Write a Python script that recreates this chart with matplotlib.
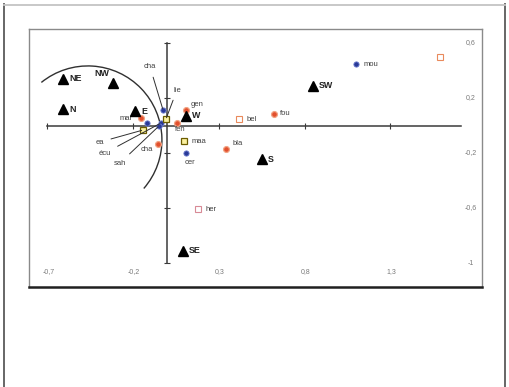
import numpy as np
import matplotlib
matplotlib.use("Agg")
import matplotlib.pyplot as plt
from matplotlib.patches import Arc
from matplotlib.lines import Line2D

plt.rcParams['font.family'] = ['Liberation Sans', 'DejaVu Sans']

# exposure sites (black triangles)
dir_names = ["NE", "NW", "N", "E", "W", "SW", "S", "SE"]
dir_x = [-0.61, -0.32, -0.61, -0.19, 0.11, 0.85, 0.55, 0.09]
dir_y = [0.34, 0.31, 0.12, 0.105, 0.07, 0.29, -0.245, -0.91]

# species, grouped by symbol
orange_names = ["mar", "fen", "gen", "fou", "bla", "cha"]
orange_x = [-0.155, 0.055, 0.108, 0.621, 0.341, -0.055]
orange_y = [0.055, 0.018, 0.113, 0.084, -0.171, -0.135]

blue_names = ["cha", "", "écu", "sah", "cer", "mou"]
blue_x = [-0.026, -0.12, -0.038, -0.05, 0.108, 1.099]
blue_y = [0.113, 0.018, 0.018, -0.004, -0.2, 0.447]

olive_names = ["lie", "ea", "maa"]
olive_x = [-0.009, -0.143, 0.096]
olive_y = [0.047, -0.033, -0.113]

open_names = ["bel", "", "her"]
open_x = [0.417, 1.589, 0.178]
open_y = [0.047, 0.498, -0.607]

xticks = [-0.7, -0.2, 0.3, 0.8, 1.3]
yticks = [0.6, 0.2, -0.2, -0.6, -1.0]

# axis extents
x_axis_end = 1.71
y_axis_top = 0.6
y_axis_bottom = -1.0

# ---- figure ----
W, H = 509, 387
fig = plt.figure(figsize=(W / 100, H / 100), dpi=100)

# plot box in pixels: x 29..482, y 29..287
ax = fig.add_axes([29 / W, 1 - 287 / H, (482 - 29) / W, (287 - 29) / H])
# pixel -> data mapping: x0 at 167.5 px, 171.5 px/unit ; y0 at 125.5 px, 137.5 px/unit
ax.set_xlim((29 - 167.5) / 171.5, (482 - 167.5) / 171.5)
ax.set_ylim((125.5 - 287) / 137.5, (125.5 - 29) / 137.5)
ax.set_xticks([])
ax.set_yticks([])
for s in ["top", "left", "right"]:
    ax.spines[s].set_color("#8a8a8a")
    ax.spines[s].set_linewidth(1.0)
ax.spines["bottom"].set_color("#202020")
ax.spines["bottom"].set_linewidth(1.8)

# crossing axes
ax.plot([xticks[0], x_axis_end], [0, 0], color="#3a3a3a", lw=1.1, zorder=1)
ax.plot([0, 0], [y_axis_bottom, y_axis_top], color="#3a3a3a", lw=1.1, zorder=1)
ax.plot(xticks, [0] * len(xticks), ls="none", marker="|", ms=4, mew=0.8, color="#3a3a3a")
ax.plot([0] * len(yticks), yticks, ls="none", marker="_", ms=4, mew=0.8, color="#3a3a3a")

fmt = lambda v: ("%g" % v).replace(".", ",")
tick_kw = dict(fontsize=5.0, color="#7a7a7a")
for v in xticks:
    ax.annotate(fmt(v), xy=(v, 0), xycoords=("data", "axes fraction"),
                xytext=(1, 15), textcoords="offset pixels", ha="center", va="center", **tick_kw)
for v in yticks:
    ax.annotate(fmt(v), xy=(1, v), xycoords=("axes fraction", "data"),
                xytext=(-11, 0), textcoords="offset pixels", ha="center", va="center", **tick_kw)

# grouping arc (circle in pixel space)
arc_cx, arc_cy = -0.464, -0.105
arc_rx, arc_ry = 74 / 171.5, 74 / 137.5
t1, t2 = np.deg2rad(-41), np.deg2rad(129)
th1 = np.rad2deg(np.arctan2(arc_ry * np.sin(t1), arc_rx * np.cos(t1)))
th2 = np.rad2deg(np.arctan2(arc_ry * np.sin(t2), arc_rx * np.cos(t2)))
ax.add_patch(Arc((arc_cx, arc_cy), 2 * arc_rx, 2 * arc_ry, theta1=th1, theta2=th2,
                 color="#303030", lw=1.0, zorder=1))

# label offsets in pixels (dx right, dy down), leader line flag
orange_off = [(-15, 1, False), (3, 6, False), (11, -5, False), (11, 0, False),
              (12, -6, False), (-11, 5, False)]
blue_off = [(-13, -43, True), None, (-56, 30, True), (-39, 37, True),
            (4, 9, False), (15, 0, False)]
olive_off = [(11, -29, True), (-43, 12, True), (15, 0, False)]
open_off = [(13, 0, False), None, (13, 1, False)]

lab_kw = dict(fontsize=5.5, color="#404040", ha="center", va="center")


def put_labels(names, xs, ys, offs):
    for n, x, y, o in zip(names, xs, ys, offs):
        if not n or o is None:
            continue
        dx, dy, lead = o
        if lead:
            ax.annotate(n, xy=(x, y), xytext=(dx, -dy), textcoords="offset pixels",
                        arrowprops=dict(arrowstyle="-", color="#303030", lw=0.7,
                                        shrinkA=3, shrinkB=1), **lab_kw)
        else:
            ax.annotate(n, xy=(x, y), xytext=(dx, -dy), textcoords="offset pixels", **lab_kw)


ax.plot(orange_x, orange_y, ls="none", marker="o", ms=4.2, mfc="#e2502e", mec="#f2a383",
        mew=0.9, zorder=3)
ax.plot(blue_x, blue_y, ls="none", marker="o", ms=3.8, mfc="#2a3a98", mec="#6f7fd0",
        mew=0.6, zorder=3)
ax.plot(olive_x, olive_y, ls="none", marker="s", ms=4.0, mfc="#fbf1a0", mec="#6b5c00",
        mew=0.9, zorder=3)
ax.plot(open_x[:2], open_y[:2], ls="none", marker="s", ms=4.0, mfc="white", mec="#e98a5c",
        mew=0.8, zorder=3)
ax.plot(open_x[2:], open_y[2:], ls="none", marker="s", ms=4.0, mfc="white", mec="#d88a96",
        mew=0.8, zorder=3)

put_labels(orange_names, orange_x, orange_y, orange_off)
put_labels(blue_names, blue_x, blue_y, blue_off)
put_labels(olive_names, olive_x, olive_y, olive_off)
put_labels(open_names, open_x, open_y, open_off)

ax.plot(dir_x, dir_y, ls="none", marker="^", ms=7.2, color="black", zorder=4)
for n, x, y in zip(dir_names, dir_x, dir_y):
    if n == "NW":
        ax.annotate(n, xy=(x, y), xytext=(-3, 9), textcoords="offset pixels",
                    ha="right", va="center", fontsize=6.4, fontweight="bold", color="#222222")
    else:
        ax.annotate(n, xy=(x, y), xytext=(6, 0), textcoords="offset pixels",
                    ha="left", va="center", fontsize=6.4, fontweight="bold", color="#222222")

# outer frame
fig.add_artist(Line2D([3.5 / W, 3.5 / W], [0, 1 - 4 / H], transform=fig.transFigure,
                      color="#5a5a5a", lw=1.3))
fig.add_artist(Line2D([505 / W, 505 / W], [0, 1 - 4 / H], transform=fig.transFigure,
                      color="#5a5a5a", lw=1.3))
fig.add_artist(Line2D([3.5 / W, 505 / W], [1 - 4.5 / H, 1 - 4.5 / H], transform=fig.transFigure,
                      color="#c4c4c4", lw=1.3))

fig.savefig("out.png", dpi=100)
